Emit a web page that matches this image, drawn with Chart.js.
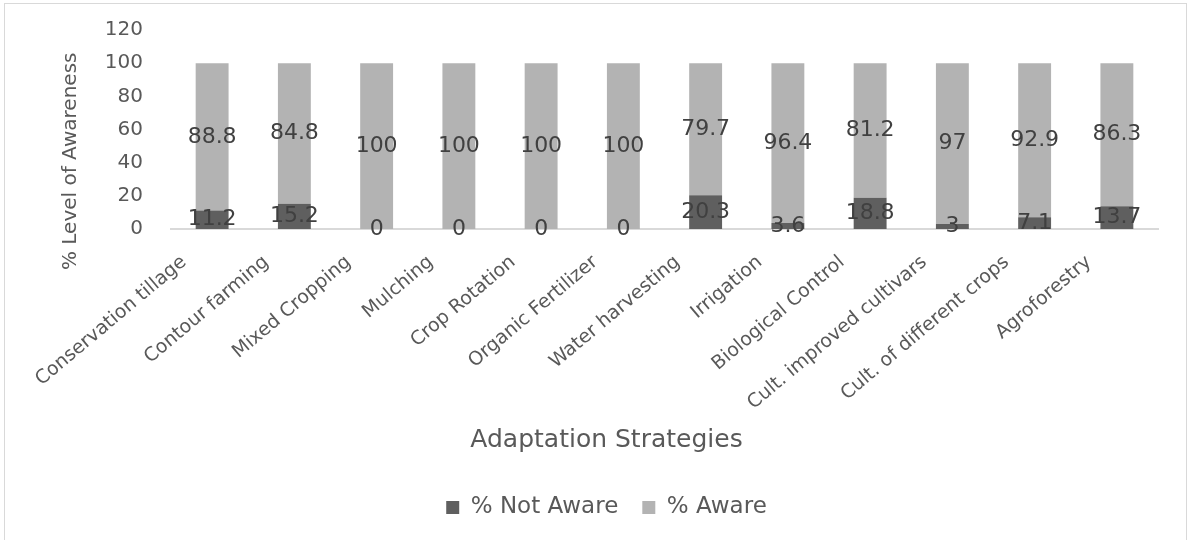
<!DOCTYPE html>
<html>
<head>
<meta charset="utf-8">
<script src="https://cdn.jsdelivr.net/npm/chart.js@4"></script>
<style>
  body { margin: 0; background: #fff; }
  #frame { position: absolute; left: 4px; top: 3px; width: 1181px; height: 600px; border: 1.5px solid #d9d9d9; border-bottom: none; }
  #myChart { position: absolute; left: 0; top: 0; }
</style>
</head>
<body>
<div id="frame"></div>
<canvas id="myChart" width="1193" height="540"></canvas>
<script>
strategies = ["Conservation tillage", "Contour farming", "Mixed Cropping", "Mulching", "Crop Rotation",
  "Organic Fertilizer", "Water harvesting", "Irrigation", "Biological Control",
  "Cult. improved cultivars", "Cult. of different crops", "Agroforestry"];
notAware = [11.2, 15.2, 0, 0, 0, 0, 20.3, 3.6, 18.8, 3, 7.1, 13.7];
aware = [88.8, 84.8, 100, 100, 100, 100, 79.7, 96.4, 81.2, 97, 92.9, 86.3];
yTicks = [0, 20, 40, 60, 80, 100, 120];

const FONT = '"DejaVu Sans"';

// numbers in the middle of each segment
const valueLabels = {
  id: 'valueLabels',
  afterDatasetsDraw(chart) {
    const ctx = chart.ctx;
    ctx.save();
    ctx.font = '22px ' + FONT;
    ctx.fillStyle = '#404040';
    ctx.textAlign = 'center';
    ctx.textBaseline = 'middle';
    chart.data.datasets.forEach((ds, i) => {
      chart.getDatasetMeta(i).data.forEach((bar, j) => {
        const p = bar.getProps(['x', 'y', 'base'], true);
        ctx.fillText(ds.data[j], p.x, (p.y + p.base) / 2);
      });
    });
    ctx.restore();
  }
};

new Chart(document.getElementById('myChart'), {
  type: 'bar',
  data: {
    labels: strategies,
    datasets: [
      { label: '% Not Aware', data: notAware, backgroundColor: '#5f5f5f', barPercentage: 0.4, categoryPercentage: 1 },
      { label: '% Aware', data: aware, backgroundColor: '#b3b3b3', barPercentage: 0.4, categoryPercentage: 1 }
    ]
  },
  options: {
    responsive: false,
    animation: false,
    layout: { padding: { left: 55, right: 35, top: 30, bottom: 11 } },
    scales: {
      x: {
        stacked: true,
        afterFit: s => { s.height = 196; },
        grid: { display: false, drawTicks: false },
        border: { display: true, color: '#d9d9d9', width: 2 },
        ticks: { color: '#595959', font: { family: FONT, size: 19 }, maxRotation: 40, minRotation: 40, padding: 22, labelOffset: -28 }
      },
      y: {
        stacked: true,
        min: 0,
        max: 120,
        afterBuildTicks: s => { s.ticks = yTicks.map(v => ({ value: v })); },
        afterFit: s => { s.width = 116; s.paddingTop = 0; s.paddingBottom = 0; },
        grid: { display: false, drawTicks: false },
        border: { display: false },
        ticks: { color: '#595959', font: { family: FONT, size: 20 }, padding: 28, autoSkip: false },
        title: { display: true, text: '% Level of Awareness          ', color: '#595959', font: { family: FONT, size: 20 } }
      }
    },
    plugins: {
      title: {
        display: true, position: 'bottom', weight: 100, text: 'Adaptation Strategies',
        color: '#595959', font: { family: FONT, size: 25, weight: 'normal' }, padding: { top: 0, bottom: 17 }
      },
      legend: {
        position: 'bottom', weight: 1000,
        labels: { color: '#595959', font: { family: FONT, size: 23 }, boxWidth: 13, boxHeight: 13, padding: 24 }
      },
      tooltip: { enabled: false }
    }
  },
  plugins: [valueLabels]
});
</script>
</body>
</html>
